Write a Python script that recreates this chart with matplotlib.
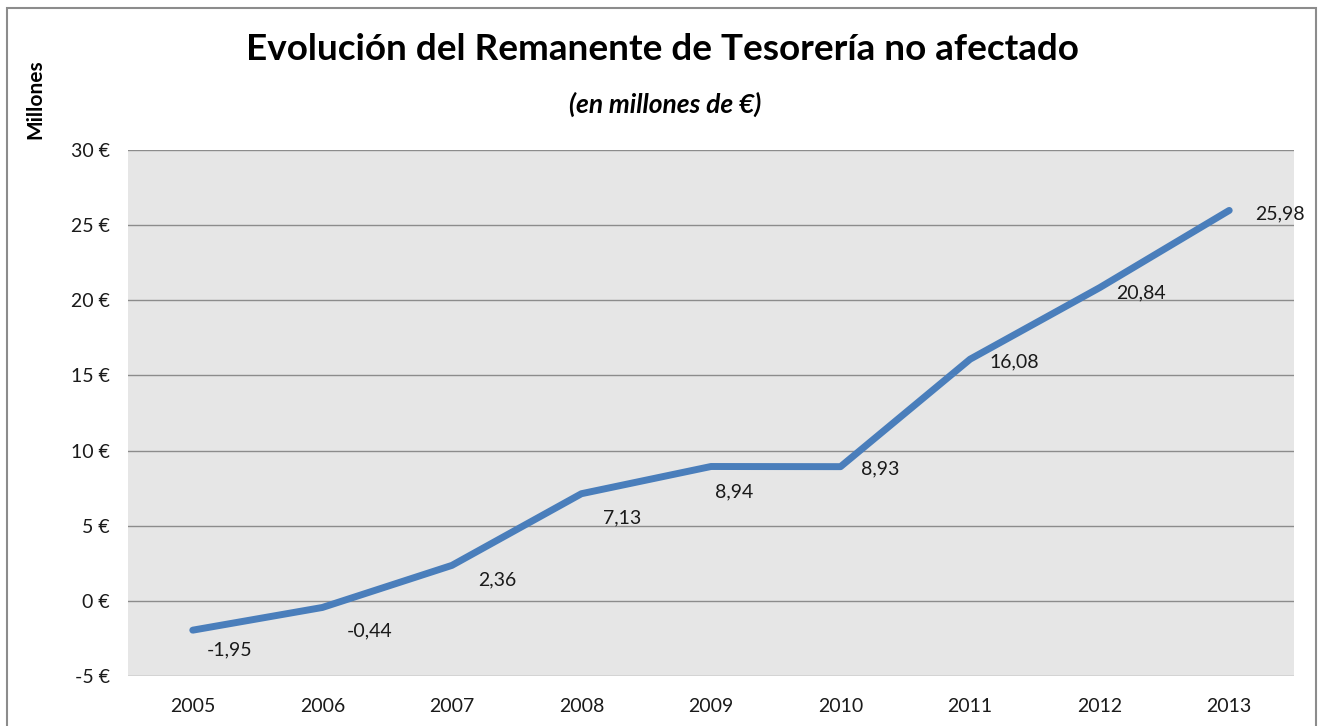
import matplotlib

matplotlib.use("Agg")

import matplotlib.pyplot as plt  # noqa: E402
from matplotlib.patches import Rectangle  # noqa: E402
from matplotlib.ticker import FixedLocator  # noqa: E402

years = ["2005", "2006", "2007", "2008", "2009", "2010", "2011", "2012", "2013"]
remanente = [-1.95, -0.44, 2.36, 7.13, 8.94, 8.93, 16.08, 20.84, 25.98]
labels = ["-1,95", "-0,44", "2,36", "7,13", "8,94", "8,93", "16,08", "20,84", "25,98"]
y_ticks = [-5, 0, 5, 10, 15, 20, 25, 30]

# label offsets from each point, in pixels (x right, y down), as Excel placed them
label_dx = [37, 47, 45, 41, 23, 40, 44, 41, 51]
label_dy = [20, 23, 14, 24, 25, 2, 3, 5, 3]

W, H = 1320, 726
plt.rcParams["font.family"] = ["Lato", "DejaVu Sans"]

fig = plt.figure(figsize=(W / 100, H / 100), dpi=100)
ax = fig.add_axes([128 / W, 1 - 676 / H, (1294 - 128) / W, (676 - 150) / H])

# outer chart frame
fig.patches.append(Rectangle((7 / W, -0.05), (1316 - 7) / W, (H - 8) / H + 0.05,
                             transform=fig.transFigure, fill=False,
                             edgecolor="#8c8c8c", linewidth=1.5))

x = list(range(len(years)))
ax.set_facecolor("#e6e6e6")
ax.plot(x, remanente, color="#4a7ebb", linewidth=5, solid_capstyle="round",
        solid_joinstyle="round", zorder=3)

for xi, yi, lab, dx, dy in zip(x, remanente, labels, label_dx, label_dy):
    ax.annotate(lab, (xi, yi), xytext=(dx * 0.72, -dy * 0.72), textcoords="offset points",
                ha="center", va="center", fontsize=14, color="#1a1a1a")

ax.set_xlim(-0.5, len(years) - 0.5)
ax.set_ylim(-5, 30)
ax.yaxis.set_major_locator(FixedLocator(y_ticks))
ax.set_yticklabels([f"{t} €" for t in y_ticks])
ax.set_xticks(x)
ax.set_xticklabels(years)
ax.tick_params(axis="both", length=0, labelsize=14, colors="#1a1a1a")
ax.tick_params(axis="y", pad=13)
ax.tick_params(axis="x", pad=16)
ax.grid(axis="y", color="#8c8c8c", linewidth=1)
ax.set_axisbelow(True)
for s in ax.spines.values():
    s.set_visible(False)

fig.text(662 / W, 1 - 50 / H, "Evolución del Remanente de Tesorería no afectado",
         ha="center", va="center", fontsize=26.6, fontweight="bold", color="black")
fig.text(665 / W, 1 - 104 / H, "(en millones de €)", ha="center", va="center",
         fontsize=19, fontweight="bold", fontstyle="italic", color="black")
fig.text(35 / W, 1 - 99 / H, "Millones", ha="center", va="center", rotation=90,
         fontsize=15, fontweight="bold", color="black")

fig.savefig("out.png", dpi=100)
